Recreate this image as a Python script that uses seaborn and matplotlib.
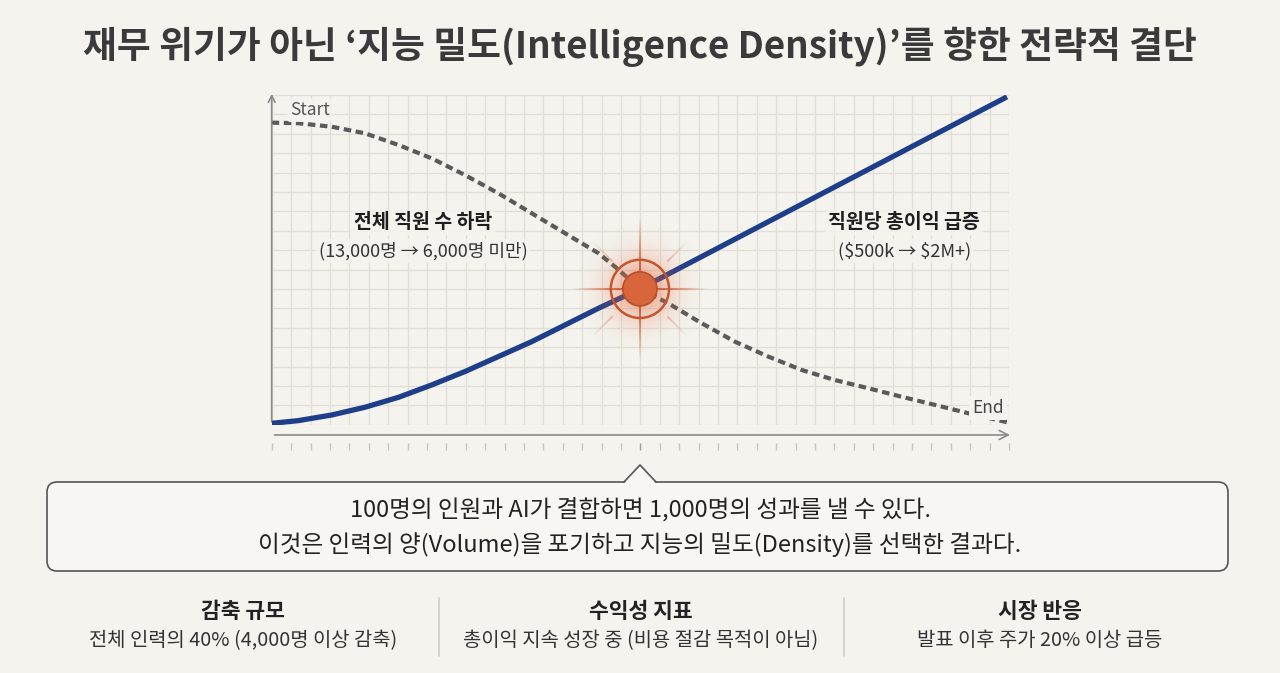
import numpy as np
import pandas as pd
import matplotlib
matplotlib.use("Agg")
import matplotlib.pyplot as plt
import seaborn as sns
from matplotlib.patches import Circle, FancyBboxPatch, Polygon
from matplotlib.collections import LineCollection

# ---------------- data ----------------
title = "재무 위기가 아닌 ‘지능 밀도(Intelligence Density)’를 향한 전략적 결단"

# gross profit per employee (rising, solid navy)
growth_x = [0.0, 1.37, 3.09, 4.81, 6.53, 8.25, 9.96, 11.68, 13.40, 15.12, 16.84, 18.98, 37.9]
growth_y = [0.07, 0.21, 0.50, 0.90, 1.41, 2.05, 2.74, 3.51, 4.28, 5.14, 6.00, 7.0, 16.9]

# headcount (falling, dotted gray)
headcount_x = [0.0, 1.37, 3.09, 4.81, 6.53, 8.25, 9.96, 11.68, 13.40, 15.12, 16.84, 17.70,
               18.98, 20.44, 22.16, 23.88, 25.60, 27.32, 29.04, 30.75, 32.47, 34.19, 35.91, 37.9]
headcount_y = [15.57, 15.54, 15.36, 15.02, 14.42, 13.73, 12.87, 11.93, 10.90, 9.87, 8.84, 8.14,
               7.0, 6.26, 5.23, 4.28, 3.51, 2.82, 2.30, 1.88, 1.44, 1.02, 0.59, 0.13]

cross_point = (18.98, 7.0)

start_label = "Start"
end_label = "End"
left_title = "전체 직원 수 하락"
left_sub = "(13,000명 → 6,000명 미만)"
right_title = "직원당 총이익 급증"
right_sub = "($500k → $2M+)"

callout_lines = ["100명의 인원과 AI가 결합하면 1,000명의 성과를 낼 수 있다.",
                 "이것은 인력의 양(Volume)을 포기하고 지능의 밀도(Density)를 선택한 결과다."]

stat_headers = ["감축 규모", "수익성 지표", "시장 반응"]
stat_texts = ["전체 인력의 40% (4,000명 이상 감축)",
              "총이익 지속 성장 중 (비용 절감 목적이 아님)",
              "발표 이후 주가 20% 이상 급등"]

# ---------------- style ----------------
BG = "#F4F3EE"
GRID = "#E2DFD6"
NAVY = "#1F3E8A"
DOT = "#5A5A5A"
ORANGE = "#D9653D"
RING = "#C4562F"

sns.set_theme(style="white")
plt.rcParams["font.family"] = ["Noto Sans CJK KR", "DejaVu Sans"]

W, H = 1280, 673
fig = plt.figure(figsize=(W / 100, H / 100), dpi=100, facecolor=BG)

# overlay axes in pixel coordinates
ov = fig.add_axes([0, 0, 1, 1], zorder=0)
ov.set_xlim(0, W)
ov.set_ylim(H, 0)
ov.axis("off")
ov.patch.set_alpha(0)

# main chart axes
x0, y0, x1, y1 = 271.7, 94.9, 1008.9, 424.7
ax = fig.add_axes([x0 / W, 1 - y1 / H, (x1 - x0) / W, (y1 - y0) / H], zorder=1)
ax.patch.set_alpha(0)
ax.set_xticks(range(39))
ax.set_yticks(range(18))
ax.grid(True, color=GRID, linewidth=1.0)
ax.tick_params(length=0, labelbottom=False, labelleft=False)
for s in ax.spines.values():
    s.set_visible(False)

df_growth = pd.DataFrame({"x": growth_x, "y": growth_y})
df_head = pd.DataFrame({"x": headcount_x, "y": headcount_y})

sns.lineplot(data=df_head, x="x", y="y", ax=ax, color=DOT, linewidth=3.0,
             sort=False, estimator=None, zorder=3)
ax.lines[-1].set_linestyle((0, (1.8, 1.1)))
ax.lines[-1].set_dash_capstyle("butt")
ax.lines[-1].set_dash_joinstyle("round")
sns.lineplot(data=df_growth, x="x", y="y", ax=ax, color=NAVY, linewidth=3.8,
             sort=False, estimator=None, zorder=4)
ax.lines[-1].set_solid_capstyle("butt")
ax.lines[-1].set_solid_joinstyle("round")
ax.set_xlabel("")
ax.set_ylabel("")

# axes arrows and ticks
ax.annotate("", xy=(38.2, -0.53), xytext=(0, -0.53),
            arrowprops=dict(arrowstyle="->", color="#8A8A8A", lw=1.2, mutation_scale=16),
            annotation_clip=False)
ax.annotate("", xy=(0, 17.2), xytext=(0, 0),
            arrowprops=dict(arrowstyle="->", color="#8A8A8A", lw=1.2, mutation_scale=12),
            annotation_clip=False)
tick_cols = ["#9A9A9A" if i == 19 else "#C8C6C0" for i in range(39)]
ax.vlines(range(39), -0.95, -1.3, colors=tick_cols, linewidth=1.0, clip_on=False)

# glow at crossover
cx, cy = cross_point
R = 3.2
g = np.linspace(-R, R, 241)
XX, YY = np.meshgrid(g, g)
rr = np.sqrt(XX ** 2 + YY ** 2)
rgba = np.zeros((241, 241, 4))
rgba[..., 0] = 0.92
rgba[..., 1] = 0.40
rgba[..., 2] = 0.24
rgba[..., 3] = 0.55 * np.exp(-(rr / 1.6) ** 2)
ax.imshow(rgba, extent=[cx - R, cx + R, cy - R, cy + R], origin="lower",
          aspect="auto", interpolation="bilinear", zorder=5)

# rays
segs, cols = [], []
def add_ray(dx, dy, r0, r1, amax, n=30):
    rs = np.linspace(r0, r1, n + 1)
    for i in range(n):
        segs.append([(cx + dx * rs[i], cy + dy * rs[i]),
                     (cx + dx * rs[i + 1], cy + dy * rs[i + 1])])
        t = i / n
        cols.append((0.78, 0.36, 0.2, amax * (1 - t)))
for dx, dy, r1 in [(0, 1, 3.7), (0, -1, 3.6), (1, 0, 3.5), (-1, 0, 3.5)]:
    add_ray(dx, dy, 0.9, r1, 0.95)
d = np.sqrt(0.5)
for dx, dy in [(d, d), (-d, d), (d, -d), (-d, -d)]:
    add_ray(dx, dy, 2.0, 3.4, 0.35)
ax.add_collection(LineCollection(segs, colors=cols, linewidths=1.5, zorder=6))

ax.add_patch(Circle((cx, cy), 1.5, fill=False, ec=RING, lw=1.8, zorder=7))
ax.add_patch(Circle((cx, cy), 0.88, fc=ORANGE, ec="#B84E2A", lw=1.2, zorder=8))

ax.set_xlim(0, 38)
ax.set_ylim(0, 17)

# labels in the chart
lab_box = dict(boxstyle="round,pad=0.15", fc=BG, ec="none", alpha=0.9)
ax.text(0.94, 16.2, start_label, fontsize=12.5, color="#555555", ha="left", va="center",
        zorder=9, bbox=lab_box)
ax.text(36.1, 0.86, end_label, fontsize=12.5, color="#444444", ha="left", va="center",
        zorder=9, bbox=dict(boxstyle="square,pad=0.15", fc=BG, ec="none"))
ax.text(7.8, 10.4, left_title, fontsize=14, fontweight="bold", color="#1E1E1E",
        ha="center", va="center", zorder=9, bbox=lab_box)
ax.text(7.8, 8.95, left_sub, fontsize=13, color="#333333",
        ha="center", va="center", zorder=9, bbox=lab_box, parse_math=False)
ax.text(32.6, 10.4, right_title, fontsize=14, fontweight="bold", color="#1E1E1E",
        ha="center", va="center", zorder=9, bbox=lab_box)
ax.text(32.6, 8.95, right_sub, fontsize=13, color="#333333",
        ha="center", va="center", zorder=9, bbox=lab_box, parse_math=False)

# title
ov.text(640, 47, title, fontsize=26.5, fontweight="bold", color="#3A3A3A",
        ha="center", va="center")

# callout box
box = FancyBboxPatch((47, 482), 1181, 89, boxstyle="round,pad=0,rounding_size=10",
                     fc="#F7F6F2", ec="#555555", lw=1.2, zorder=2)
ov.add_patch(box)
ov.add_patch(Polygon([(624, 483.5), (640, 465), (656, 483.5)], closed=True,
                     fc="#F7F6F2", ec="none", zorder=3))
ov.plot([624, 640, 656], [482, 465, 482], color="#555555", lw=1.2, zorder=4,
        solid_joinstyle="miter")
ov.text(640, 510, callout_lines[0], fontsize=17, color="#222222",
        ha="center", va="center", zorder=5)
ov.text(640, 545, callout_lines[1], fontsize=17, color="#222222",
        ha="center", va="center", zorder=5)

# bottom stats
centers = [243, 641, 1040]
for c, h, t in zip(centers, stat_headers, stat_texts):
    ov.text(c, 612, h, fontsize=15.5, fontweight="bold", color="#222222",
            ha="center", va="center")
    ov.text(c, 641, t, fontsize=14.3, color="#333333", ha="center", va="center")
for xd in [438.5, 844]:
    ov.plot([xd, xd], [598, 656], color="#CFCDC7", lw=1.2)

fig.savefig("out.png", dpi=100, facecolor=BG)
